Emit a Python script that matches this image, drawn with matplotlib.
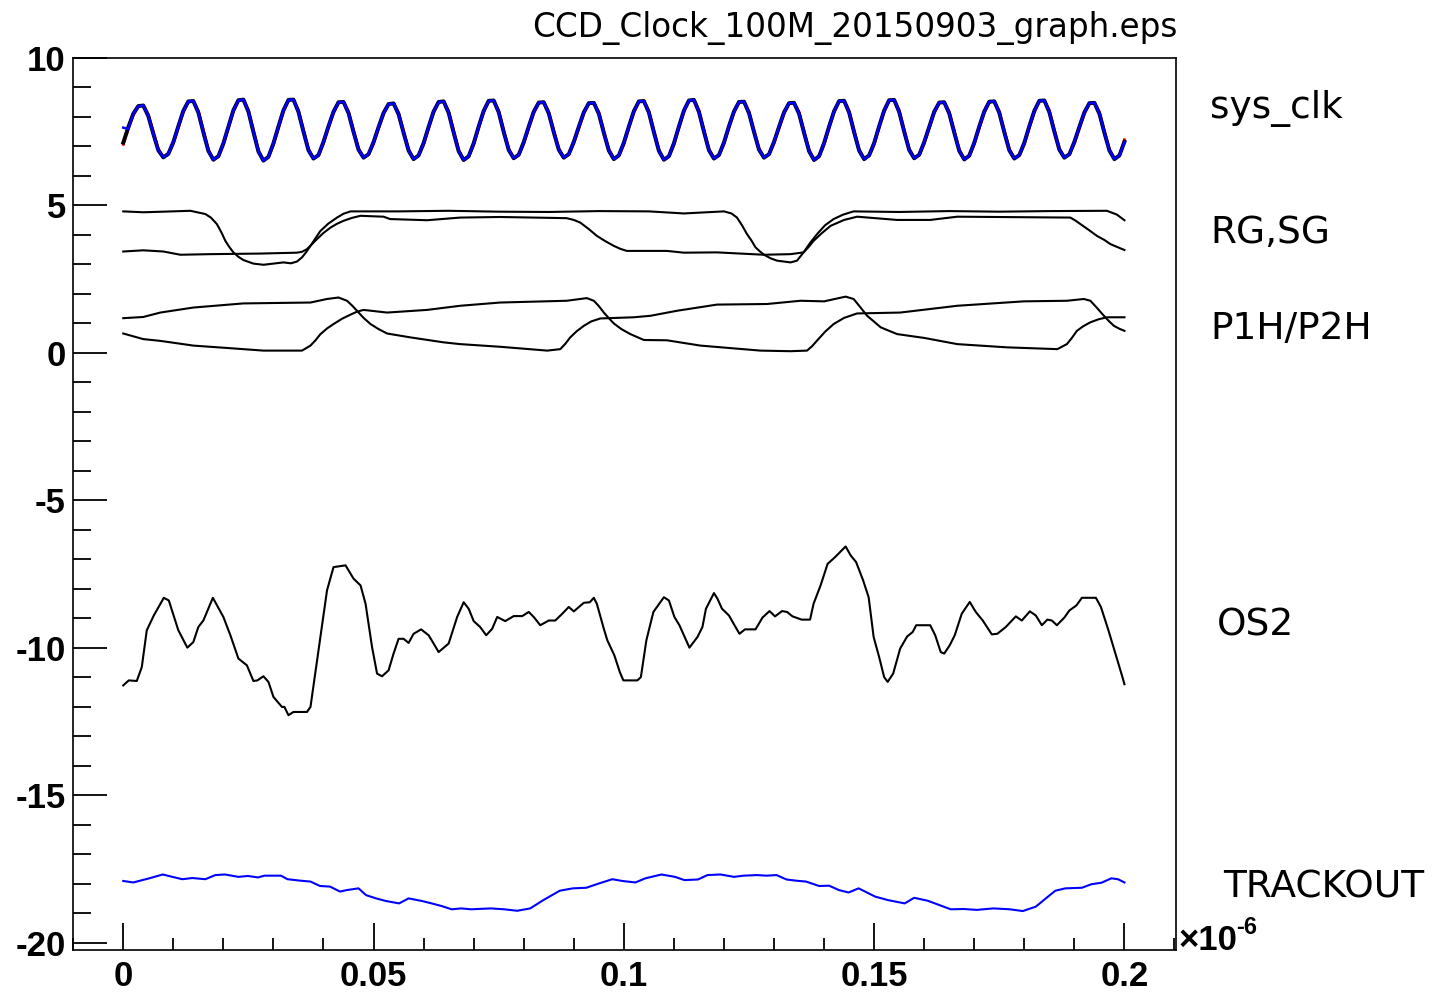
import numpy as np
import matplotlib
matplotlib.use('Agg')
import matplotlib.pyplot as plt
from matplotlib.ticker import MultipleLocator, FuncFormatter

plt.rcParams['axes.unicode_minus'] = False

##################### data (time in units of 1e-6 s) #####################
# sys_clk : one sample every 0.001, one row per clock cycle (10 samples)
clk_black_rows = [
    [7.12, 7.64, 8.10, 8.36, 8.38, 8.02, 7.42, 6.86, 6.62, 6.74],
    [7.14, 7.68, 8.20, 8.52, 8.53, 8.14, 7.47, 6.84, 6.54, 6.66],
    [7.10, 7.66, 8.22, 8.56, 8.58, 8.17, 7.48, 6.82, 6.51, 6.64],
    [7.10, 7.67, 8.22, 8.57, 8.58, 8.16, 7.49, 6.86, 6.58, 6.70],
    [7.15, 7.68, 8.17, 8.49, 8.50, 8.12, 7.48, 6.88, 6.61, 6.73],
    [7.14, 7.65, 8.13, 8.43, 8.45, 8.08, 7.45, 6.85, 6.56, 6.69],
    [7.11, 7.66, 8.18, 8.50, 8.52, 8.13, 7.46, 6.83, 6.53, 6.66],
    [7.10, 7.67, 8.20, 8.54, 8.55, 8.15, 7.48, 6.87, 6.59, 6.71],
    [7.14, 7.67, 8.17, 8.48, 8.49, 8.11, 7.47, 6.88, 6.61, 6.73],
    [7.15, 7.66, 8.15, 8.46, 8.47, 8.10, 7.45, 6.85, 6.56, 6.69],
    [7.12, 7.67, 8.19, 8.52, 8.53, 8.14, 7.47, 6.84, 6.54, 6.66],
    [7.10, 7.67, 8.21, 8.55, 8.57, 8.16, 7.49, 6.86, 6.58, 6.70],
    [7.13, 7.68, 8.18, 8.50, 8.51, 8.12, 7.48, 6.88, 6.61, 6.73],
    [7.15, 7.66, 8.15, 8.46, 8.47, 8.10, 7.45, 6.83, 6.53, 6.66],
    [7.11, 7.67, 8.19, 8.53, 8.54, 8.14, 7.47, 6.85, 6.56, 6.69],
    [7.11, 7.68, 8.21, 8.56, 8.57, 8.16, 7.49, 6.87, 6.59, 6.71],
    [7.14, 7.66, 8.17, 8.48, 8.49, 8.11, 7.46, 6.84, 6.55, 6.68],
    [7.12, 7.67, 8.18, 8.51, 8.52, 8.13, 7.47, 6.86, 6.58, 6.70],
    [7.12, 7.68, 8.20, 8.54, 8.55, 8.15, 7.49, 6.88, 6.61, 6.73],
    [7.15, 7.66, 8.15, 8.46, 8.47, 8.10, 7.45, 6.85, 6.56, 6.69],
    [7.15],
]
clk_red_rows = [
    [7.06, 7.58, 8.05, 8.34, 8.39, 8.08, 7.49, 6.91, 6.63, 6.72],
    [7.08, 7.62, 8.15, 8.50, 8.54, 8.20, 7.54, 6.89, 6.55, 6.64],
    [7.04, 7.60, 8.17, 8.54, 8.59, 8.23, 7.55, 6.87, 6.52, 6.62],
    [7.04, 7.61, 8.17, 8.55, 8.59, 8.22, 7.56, 6.91, 6.59, 6.68],
    [7.09, 7.62, 8.12, 8.47, 8.51, 8.18, 7.55, 6.93, 6.62, 6.71],
    [7.08, 7.59, 8.08, 8.41, 8.46, 8.14, 7.52, 6.90, 6.57, 6.67],
    [7.05, 7.60, 8.13, 8.48, 8.53, 8.19, 7.53, 6.88, 6.54, 6.64],
    [7.04, 7.61, 8.15, 8.52, 8.56, 8.21, 7.55, 6.92, 6.60, 6.69],
    [7.08, 7.61, 8.12, 8.46, 8.50, 8.17, 7.54, 6.93, 6.62, 6.71],
    [7.09, 7.60, 8.10, 8.44, 8.48, 8.16, 7.52, 6.90, 6.57, 6.67],
    [7.06, 7.61, 8.14, 8.50, 8.54, 8.20, 7.54, 6.89, 6.55, 6.64],
    [7.04, 7.61, 8.16, 8.53, 8.58, 8.22, 7.56, 6.91, 6.59, 6.68],
    [7.07, 7.62, 8.13, 8.48, 8.52, 8.18, 7.55, 6.93, 6.62, 6.71],
    [7.09, 7.60, 8.10, 8.44, 8.48, 8.16, 7.52, 6.88, 6.54, 6.64],
    [7.05, 7.61, 8.14, 8.51, 8.55, 8.20, 7.54, 6.90, 6.57, 6.67],
    [7.05, 7.62, 8.16, 8.54, 8.58, 8.22, 7.56, 6.92, 6.60, 6.69],
    [7.08, 7.60, 8.12, 8.46, 8.50, 8.17, 7.53, 6.89, 6.56, 6.66],
    [7.06, 7.61, 8.13, 8.49, 8.53, 8.19, 7.54, 6.91, 6.59, 6.68],
    [7.06, 7.62, 8.15, 8.52, 8.56, 8.21, 7.56, 6.93, 6.62, 6.71],
    [7.09, 7.60, 8.10, 8.44, 8.48, 8.16, 7.52, 6.90, 6.57, 6.67],
    [7.22],
]
# blue channel lies on top of the black one except for its first samples
clk_blue_head = [7.63, 7.58]

# RG, SG
rg_t = [0.0, 0.004, 0.008, 0.0134, 0.0164, 0.0175, 0.0187, 0.0196, 0.0204, 0.0212,
        0.022, 0.023, 0.024, 0.026, 0.028, 0.030, 0.032, 0.0335, 0.0347, 0.0357,
        0.0365, 0.0374, 0.0384, 0.0394, 0.041, 0.0427, 0.044, 0.0454, 0.055, 0.065,
        0.075, 0.085, 0.095, 0.105, 0.112, 0.12, 0.1215, 0.1226, 0.1236, 0.1246,
        0.1255, 0.1263, 0.1272, 0.128, 0.1293, 0.1306, 0.1333, 0.1346, 0.1359, 0.1372,
        0.1386, 0.1402, 0.1419, 0.1438, 0.1459, 0.155, 0.165, 0.175, 0.185, 0.1965,
        0.1985, 0.2]
rg_v = [4.79, 4.76, 4.78, 4.81, 4.70, 4.58, 4.36, 4.08, 3.79, 3.58,
        3.40, 3.25, 3.14, 3.02, 2.98, 3.02, 3.06, 3.03, 3.09, 3.23,
        3.40, 3.62, 3.88, 4.13, 4.38, 4.58, 4.71, 4.79, 4.79, 4.81,
        4.78, 4.77, 4.80, 4.79, 4.72, 4.79, 4.72, 4.58, 4.32, 4.02,
        3.80, 3.57, 3.43, 3.32, 3.20, 3.12, 3.06, 3.12, 3.40, 3.72,
        4.02, 4.32, 4.53, 4.68, 4.79, 4.77, 4.80, 4.78, 4.80, 4.81,
        4.68, 4.49]
sg_t = [0.0, 0.004, 0.008, 0.0114, 0.0174, 0.0274, 0.0347, 0.0357, 0.0367, 0.0377,
        0.0387, 0.0400, 0.0414, 0.0427, 0.044, 0.0457, 0.0474, 0.052, 0.0533, 0.0607,
        0.0673, 0.0753, 0.0886, 0.0900, 0.0913, 0.0930, 0.0946, 0.0963, 0.098, 0.0993,
        0.1006, 0.1086, 0.112, 0.1186, 0.128, 0.1333, 0.1359, 0.1369, 0.1379, 0.1396,
        0.1413, 0.1440, 0.1466, 0.1546, 0.1612, 0.1666, 0.1892, 0.1902, 0.1912, 0.1928,
        0.1945, 0.1960, 0.1972, 0.1986, 0.2]
sg_v = [3.43, 3.47, 3.43, 3.32, 3.34, 3.36, 3.39, 3.42, 3.51, 3.68,
        3.85, 4.06, 4.24, 4.37, 4.47, 4.57, 4.64, 4.61, 4.53, 4.49,
        4.58, 4.60, 4.56, 4.50, 4.41, 4.19, 3.96, 3.78, 3.62, 3.52,
        3.45, 3.45, 3.39, 3.40, 3.32, 3.34, 3.40, 3.58, 3.79, 4.06,
        4.30, 4.50, 4.61, 4.50, 4.50, 4.61, 4.58, 4.48, 4.36, 4.17,
        3.96, 3.82, 3.68, 3.58, 3.48]

# P1H, P2H
p1h_t = [0.0, 0.004, 0.0074, 0.014, 0.024, 0.0374, 0.0407, 0.043, 0.0447, 0.0457,
         0.0467, 0.048, 0.0494, 0.051, 0.0527, 0.0573, 0.064, 0.0673, 0.0753, 0.0847,
         0.0873, 0.0883, 0.0893, 0.0906, 0.092, 0.0935, 0.0953, 0.102, 0.1053, 0.1106,
         0.1186, 0.1286, 0.1353, 0.14, 0.1443, 0.1459, 0.1472, 0.1486, 0.150, 0.1513,
         0.153, 0.1546, 0.16, 0.1666, 0.1766, 0.1866, 0.1885, 0.1895, 0.1905, 0.1918,
         0.1932, 0.1948, 0.1965, 0.2]
p1h_v = [1.17, 1.21, 1.36, 1.53, 1.67, 1.70, 1.82, 1.87, 1.76, 1.60,
         1.42, 1.18, 0.97, 0.80, 0.65, 0.52, 0.35, 0.29, 0.20, 0.07,
         0.12, 0.30, 0.52, 0.73, 0.91, 1.06, 1.16, 1.20, 1.25, 1.42,
         1.63, 1.65, 1.76, 1.74, 1.90, 1.82, 1.55, 1.25, 1.05, 0.86,
         0.74, 0.63, 0.50, 0.29, 0.18, 0.12, 0.29, 0.50, 0.74, 0.90,
         1.03, 1.13, 1.20, 1.20]
p2h_t = [0.0, 0.004, 0.0074, 0.014, 0.0207, 0.028, 0.0357, 0.0374, 0.0384, 0.0394,
         0.0407, 0.042, 0.0437, 0.0454, 0.0467, 0.048, 0.0527, 0.0607, 0.0673, 0.0753,
         0.0886, 0.0926, 0.094, 0.095, 0.096, 0.097, 0.098, 0.0995, 0.1013, 0.104,
         0.1086, 0.1153, 0.1273, 0.1333, 0.1366, 0.1376, 0.1386, 0.1402, 0.1419, 0.144,
         0.1466, 0.1552, 0.1666, 0.1799, 0.1885, 0.1919, 0.1932, 0.1945, 0.1959, 0.1969,
         0.1979, 0.199, 0.2]
p2h_v = [0.65, 0.46, 0.40, 0.24, 0.16, 0.07, 0.07, 0.24, 0.42, 0.63,
         0.82, 0.97, 1.15, 1.29, 1.39, 1.45, 1.36, 1.45, 1.59, 1.70,
         1.76, 1.85, 1.76, 1.58, 1.36, 1.17, 0.99, 0.80, 0.63, 0.43,
         0.42, 0.24, 0.07, 0.05, 0.07, 0.22, 0.41, 0.71, 0.97, 1.18,
         1.33, 1.36, 1.59, 1.74, 1.76, 1.82, 1.76, 1.52, 1.25, 1.07,
         0.91, 0.81, 0.74]

# OS2
os2_t = [0.0, 0.0011, 0.0027, 0.0037, 0.0047, 0.0061, 0.0081, 0.0091, 0.011, 0.0128,
         0.014, 0.015, 0.016, 0.0179, 0.02, 0.0214, 0.023, 0.0247, 0.026, 0.0268,
         0.028, 0.029, 0.030, 0.0317, 0.0322, 0.033, 0.034, 0.0367, 0.0374, 0.039,
         0.0407, 0.042, 0.0444, 0.046, 0.0474, 0.0484, 0.0497, 0.0507, 0.0517, 0.053,
         0.054, 0.055, 0.056, 0.057, 0.058, 0.0595, 0.061, 0.062, 0.063, 0.065,
         0.0667, 0.068, 0.069, 0.070, 0.0713, 0.0725, 0.0737, 0.0747, 0.0763, 0.078,
         0.0797, 0.081, 0.082, 0.0833, 0.085, 0.0863, 0.0877, 0.089, 0.090, 0.092,
         0.0932, 0.094, 0.0946, 0.096, 0.0967, 0.0981, 0.0992, 0.0999, 0.1027, 0.1034,
         0.1045, 0.1059, 0.108, 0.109, 0.1101, 0.1111, 0.1131, 0.1147, 0.1157, 0.1164,
         0.118, 0.1187, 0.1196, 0.121, 0.1221, 0.1231, 0.1242, 0.1263, 0.1277, 0.1291,
         0.1302, 0.1316, 0.1326, 0.1337, 0.1355, 0.1372, 0.1379, 0.1393, 0.1407, 0.1422,
         0.1443, 0.1453, 0.1464, 0.1478, 0.1489, 0.1499, 0.151, 0.152, 0.1527, 0.1538,
         0.1552, 0.1566, 0.1577, 0.1584, 0.1612, 0.1622, 0.1633, 0.164, 0.1651, 0.1661,
         0.1675, 0.1691, 0.1703, 0.1717, 0.1735, 0.1746, 0.1763, 0.1783, 0.1795, 0.1811,
         0.1823, 0.1835, 0.1846, 0.1855, 0.1865, 0.188, 0.189, 0.1904, 0.1915, 0.1943,
         0.1953, 0.1968, 0.1982, 0.1995, 0.2]
os2_v = [-11.28, -11.11, -11.13, -10.66, -9.41, -8.91, -8.31, -8.40, -9.41, -10.00,
         -9.81, -9.30, -9.08, -8.31, -8.96, -9.58, -10.37, -10.60, -11.13, -11.11,
         -10.97, -11.16, -11.67, -12.01, -12.01, -12.29, -12.18, -12.18, -12.01, -10.09,
         -8.06, -7.27, -7.21, -7.66, -7.89, -8.51, -9.98, -10.88, -10.97, -10.77,
         -10.20, -9.70, -9.70, -9.84, -9.53, -9.38, -9.58, -9.86, -10.15, -9.86,
         -8.96, -8.46, -8.68, -9.10, -9.30, -9.58, -9.36, -8.96, -9.10, -8.93,
         -8.93, -8.79, -8.96, -9.24, -9.08, -9.08, -8.85, -8.62, -8.77, -8.48,
         -8.46, -8.31, -8.51, -9.36, -9.75, -10.26, -10.83, -11.11, -11.11, -11.00,
         -9.75, -8.79, -8.29, -8.40, -8.96, -9.24, -10.00, -9.64, -9.30, -8.68,
         -8.15, -8.34, -8.68, -8.91, -9.24, -9.53, -9.38, -9.38, -8.98, -8.76,
         -8.94, -8.76, -8.79, -8.94, -9.05, -9.05, -8.51, -7.89, -7.16, -6.93,
         -6.57, -6.87, -7.10, -7.72, -8.29, -9.64, -10.32, -11.00, -11.16, -10.88,
         -10.03, -9.62, -9.47, -9.24, -9.24, -9.58, -10.15, -10.20, -9.92, -9.58,
         -8.85, -8.45, -8.79, -9.08, -9.55, -9.53, -9.30, -8.94, -9.08, -8.77,
         -8.91, -9.24, -9.05, -9.08, -9.24, -8.98, -8.74, -8.57, -8.31, -8.31,
         -8.62, -9.41, -10.20, -10.94, -11.24]

# TRACKOUT
trk_t = [0.0, 0.002, 0.0052, 0.0079, 0.0098, 0.0118, 0.0138, 0.0164, 0.0184, 0.0203,
         0.023, 0.0249, 0.0269, 0.0282, 0.0315, 0.0328, 0.0354, 0.0374, 0.0393, 0.0413,
         0.0433, 0.0446, 0.047, 0.0485, 0.0505, 0.0525, 0.0551, 0.057, 0.0597, 0.0616,
         0.0636, 0.0656, 0.0675, 0.0695, 0.0734, 0.0761, 0.0787, 0.0813, 0.0839, 0.0872,
         0.0898, 0.0925, 0.0951, 0.0977, 0.0997, 0.1023, 0.1043, 0.1075, 0.1102, 0.1121,
         0.1148, 0.1167, 0.1193, 0.122, 0.1239, 0.1266, 0.1285, 0.1305, 0.1325, 0.1344,
         0.1364, 0.139, 0.141, 0.143, 0.1449, 0.1469, 0.1482, 0.1502, 0.1528, 0.1561,
         0.158, 0.1607, 0.1626, 0.1653, 0.1679, 0.1705, 0.1738, 0.1771, 0.1797, 0.1823,
         0.1843, 0.1862, 0.1882, 0.1915, 0.1934, 0.1954, 0.1974, 0.1987, 0.2]
trk_v = [-17.91, -17.96, -17.82, -17.69, -17.77, -17.85, -17.81, -17.85, -17.71, -17.69,
         -17.77, -17.74, -17.79, -17.73, -17.73, -17.85, -17.90, -17.93, -18.08, -18.10,
         -18.27, -18.22, -18.16, -18.39, -18.50, -18.59, -18.67, -18.50, -18.59, -18.67,
         -18.76, -18.87, -18.84, -18.87, -18.84, -18.87, -18.92, -18.84, -18.56, -18.24,
         -18.16, -18.14, -17.99, -17.85, -17.91, -17.96, -17.82, -17.69, -17.77, -17.88,
         -17.86, -17.71, -17.69, -17.77, -17.73, -17.71, -17.73, -17.71, -17.86, -17.90,
         -17.93, -18.08, -18.07, -18.22, -18.30, -18.16, -18.27, -18.44, -18.56, -18.67,
         -18.48, -18.58, -18.70, -18.87, -18.86, -18.89, -18.84, -18.87, -18.93, -18.78,
         -18.50, -18.24, -18.16, -18.14, -18.02, -17.97, -17.82, -17.85, -17.96]

names = ['sys_clk', 'RG,SG', 'P1H/P2H', 'OS2', 'TRACKOUT']
title = 'CCD_Clock_100M_20150903_graph.eps'

##################### plot #####################
clk_black = sum(clk_black_rows, [])
clk_red = sum(clk_red_rows, [])
clk_blue = clk_blue_head + clk_black[len(clk_blue_head):]
clk_t = np.linspace(0, 0.2, len(clk_black))

W, H = 1434, 992
fig = plt.figure(figsize=(W / 100, H / 100), dpi=100)
ax = fig.add_axes([72.7 / W, 1 - 950 / H, (1175.5 - 72.7) / W, (950 - 57.7) / H])

ax.plot(clk_t, clk_red, color='red', lw=2.0)
ax.plot(clk_t, clk_black, color='black', lw=2.8)
ax.plot(clk_t, clk_blue, color='blue', lw=1.8)
ax.plot(rg_t, rg_v, color='black', lw=1.5)
ax.plot(sg_t, sg_v, color='black', lw=1.5)
ax.plot(p1h_t, p1h_v, color='black', lw=1.5)
ax.plot(p2h_t, p2h_v, color='black', lw=1.5)
ax.plot(os2_t, os2_v, color='black', lw=1.5)
ax.plot(trk_t, trk_v, color='blue', lw=1.5)

ax.set_xlim(-0.0101, 0.2102)
ax.set_ylim(-20.25, 10.0)
ax.xaxis.set_major_locator(MultipleLocator(0.05))
ax.xaxis.set_minor_locator(MultipleLocator(0.01))
ax.yaxis.set_major_locator(MultipleLocator(5))
ax.yaxis.set_minor_locator(MultipleLocator(1))
ax.xaxis.set_major_formatter(FuncFormatter(lambda v, p: '%g' % round(v, 3)))
ax.yaxis.set_major_formatter(FuncFormatter(lambda v, p: '%d' % round(v)))

for s in ax.spines.values():
    s.set_linewidth(1.2)
ax.tick_params(which='both', direction='in', top=False, right=False, width=1.3)
ax.tick_params(axis='x', which='major', length=19.5, pad=7)
ax.tick_params(axis='x', which='minor', length=8.6)
ax.tick_params(axis='y', which='major', length=24.5, pad=5)
ax.tick_params(axis='y', which='minor', length=13)
for lab in ax.get_xticklabels() + ax.get_yticklabels():
    lab.set_fontfamily('Liberation Sans')
    lab.set_fontweight('bold')
    lab.set_fontsize(25)

# x10^-6 exponent
fig.text(1179 / W, 1 - 950 / H, '\u00d710', fontsize=25, family='Liberation Sans',
         fontweight='bold', va='baseline', ha='left')
fig.text(1236 / W, 1 - 934 / H, '-6', fontsize=17, family='Liberation Sans',
         fontweight='bold', va='baseline', ha='left')

fig.text(1177 / W, 1 - 37 / H, title, fontsize=23.5, family='DejaVu Sans',
         ha='right', va='baseline')

lab_x = [1210, 1210, 1210, 1217, 1223]
lab_y = [118, 243, 339, 636, 897]
for n, lx, ly in zip(names, lab_x, lab_y):
    fig.text(lx / W, 1 - ly / H, n, fontsize=27, family='DejaVu Sans',
             ha='left', va='baseline')

fig.savefig('out.png', dpi=100)
